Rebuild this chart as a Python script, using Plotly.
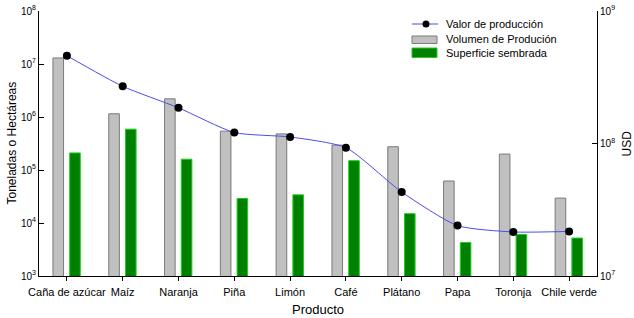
import plotly.graph_objects as go

productos = ["Caña de azúcar", "Maíz", "Naranja", "Piña", "Limón", "Café",
             "Plátano", "Papa", "Toronja", "Chile verde"]
volumen_produccion = [1.3e7, 1.15e6, 2.2e6, 5.4e5, 4.8e5, 2.95e5, 2.75e5, 6.2e4, 2.0e5, 2.95e4]
superficie_sembrada = [2.1e5, 5.9e5, 1.6e5, 2.9e4, 3.4e4, 1.5e5, 1.5e4, 4.3e3, 6.1e3, 5.2e3]
valor_produccion = [4.6e8, 2.7e8, 1.86e8, 1.21e8, 1.12e8, 9.3e7, 4.3e7, 2.4e7, 2.15e7, 2.17e7]

left_ticks = [1e3, 1e4, 1e5, 1e6, 1e7, 1e8]
left_ticktext = ["10<sup>3</sup>", "10<sup>4</sup>", "10<sup>5</sup>", "10<sup>6</sup>",
                 "10<sup>7</sup>", "10<sup>8</sup>"]
right_ticks = [1e7, 1e8, 1e9]
right_ticktext = ["10<sup>7</sup>", "10<sup>8</sup>", "10<sup>9</sup>"]

legend_labels = ["Valor de producción", "Volumen de Produción", "Superficie sembrada"]

LINE_COLOR = "#4b4bf0"
GRAY_FILL, GRAY_EDGE = "#c0c0c0", "#7a7a7a"
GREEN_FILL, GREEN_EDGE = "#008000", "#22cc22"

W, H = 634, 318
L, R, T, B = 39, 37, 11, 42
PW, PH = W - L - R, H - T - B


def px(xp):
    return (xp - L) / PW


def py(yp):
    return (H - B - yp) / PH


fig = go.Figure()
fig.add_trace(go.Scatter(
    x=productos, y=valor_produccion, name=legend_labels[0], yaxis="y2",
    mode="lines+markers", line=dict(color=LINE_COLOR, width=1, shape="spline", smoothing=0.6),
    marker=dict(color="black", size=8), showlegend=False))
fig.add_trace(go.Bar(
    x=productos, y=volumen_produccion, name=legend_labels[1],
    marker=dict(color=GRAY_FILL, line=dict(color=GRAY_EDGE, width=1)),
    offset=-0.25, width=0.19, showlegend=False))
fig.add_trace(go.Bar(
    x=productos, y=superficie_sembrada, name=legend_labels[2],
    marker=dict(color=GREEN_FILL, line=dict(color=GREEN_EDGE, width=1)),
    offset=0.05, width=0.19, showlegend=False))

# legend drawn by hand (keys + real text)
shapes = [
    dict(type="line", xref="paper", yref="paper", x0=px(412), x1=px(438),
         y0=py(24), y1=py(24), line=dict(color=LINE_COLOR, width=1)),
    dict(type="circle", xref="paper", yref="paper", x0=px(422.5), x1=px(429.5),
         y0=py(20.5), y1=py(27.5), fillcolor="black", line=dict(color="black", width=0)),
    dict(type="rect", xref="paper", yref="paper", x0=px(412), x1=px(437),
         y0=py(36), y1=py(43.5), fillcolor=GRAY_FILL, line=dict(color=GRAY_EDGE, width=1)),
    dict(type="rect", xref="paper", yref="paper", x0=px(412), x1=px(437),
         y0=py(48), y1=py(57.5), fillcolor=GREEN_FILL, line=dict(color=GREEN_EDGE, width=1)),
]
annotations = [
    dict(text=lab, xref="paper", yref="paper", x=px(444), y=py(yy), xanchor="left",
         yanchor="middle", showarrow=False, font=dict(size=11))
    for lab, yy in zip(legend_labels, [24, 39, 53])
]
annotations += [
    dict(text="Producto", xref="paper", yref="paper", x=0.5, y=0,
         yshift=-33, xanchor="center", yanchor="middle", showarrow=False,
         font=dict(size=13)),
    dict(text="Toneladas o Hectáreas", xref="paper", yref="paper", x=0, y=0.5,
         xshift=-28, xanchor="center", yanchor="middle", textangle=-90,
         showarrow=False, font=dict(size=12)),
    dict(text="USD", xref="paper", yref="paper", x=1, y=0.5,
         xshift=29, xanchor="center", yanchor="middle", textangle=-90,
         showarrow=False, font=dict(size=12)),
]

fig.update_layout(
    width=W, height=H,
    margin=dict(l=L, r=R, t=T, b=B, autoexpand=False),
    paper_bgcolor="white", plot_bgcolor="white",
    font=dict(family="Liberation Sans, Arial, sans-serif", size=11, color="black"),
    barmode="overlay",
    showlegend=False,
    hovermode=False,
    xaxis=dict(
        type="category", range=[-0.5, 9.5], automargin=False,
        showline=True, linecolor="black", linewidth=1,
        ticks="outside", ticklen=4, tickcolor="black",
        showgrid=False, zeroline=False, ticklabelstandoff=2,
        tickfont=dict(size=11)),
    yaxis=dict(
        type="log", range=[3, 8], automargin=False,
        tickvals=left_ticks, ticktext=left_ticktext,
        showline=True, linecolor="black", linewidth=1,
        ticks="inside", ticklen=5, tickcolor="black",
        showgrid=False, zeroline=False,
        tickfont=dict(size=10)),
    yaxis2=dict(
        type="log", range=[7, 9], overlaying="y", side="right", automargin=False,
        tickvals=right_ticks, ticktext=right_ticktext,
        showline=True, linecolor="black", linewidth=1,
        ticks="inside", ticklen=5, tickcolor="black",
        showgrid=False, zeroline=False,
        tickfont=dict(size=10)),
    shapes=shapes,
    annotations=annotations,
)

fig.write_html("out.html", config={"displayModeBar": False},
               post_script="document.body.style.margin='0';")
